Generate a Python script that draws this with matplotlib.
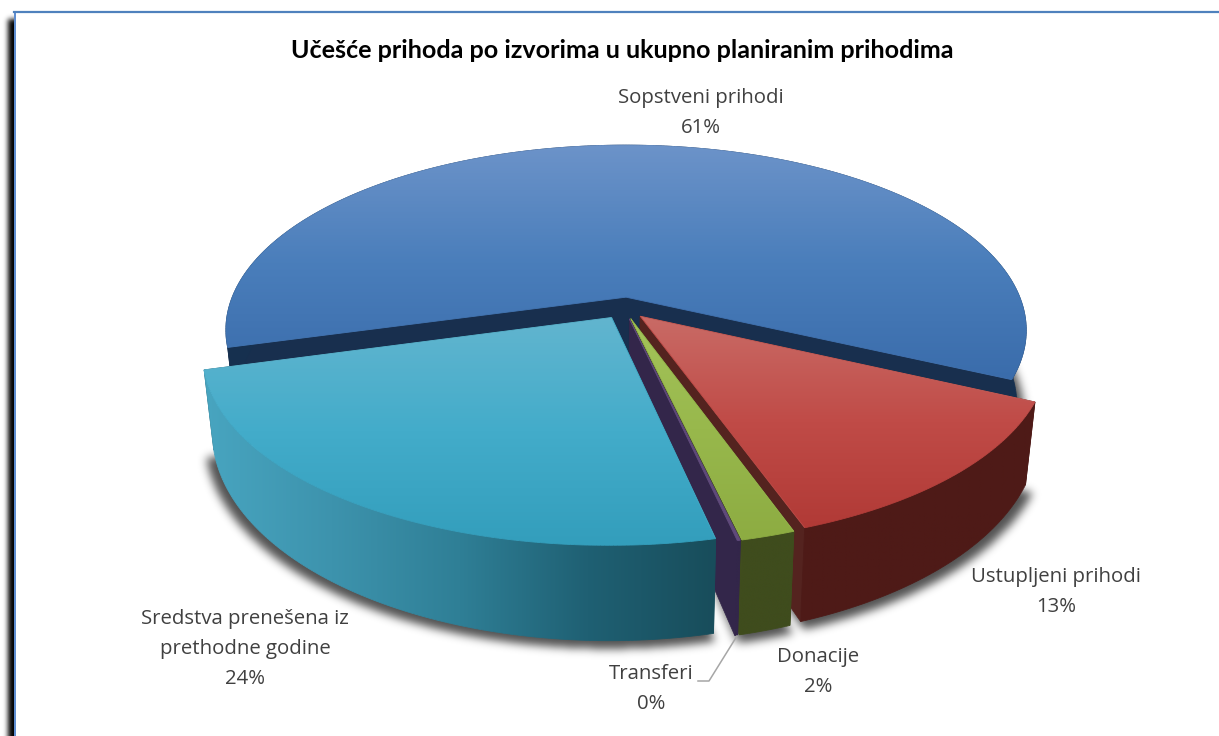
import numpy as np
import matplotlib
matplotlib.use('Agg')
import matplotlib.pyplot as plt
from matplotlib.collections import LineCollection
from matplotlib.colors import LinearSegmentedColormap
from matplotlib.patches import Polygon
from matplotlib.path import Path

title = 'Učešće prihoda po izvorima u ukupno planiranim prihodima'
names = ['Sopstveni prihodi', 'Ustupljeni prihodi', 'Donacije', 'Transferi',
         'Sredstva prenešena iz\nprethodne godine']
shares = [61.3, 12.6, 1.8, 0.1, 24.2]

top_colors = [['#6c93c9', '#4a7ebb', '#3a6cab'],
              ['#c96b66', '#c04b47', '#b13a36'],
              ['#a4c35a', '#98b84c', '#8dac42'],
              ['#604a7b', '#604a7b', '#604a7b'],
              ['#62b5cf', '#43acca', '#339ebc']]
side_colors = [['#16304f', '#16304f'],
               ['#4e1a17', '#4e1a17'],
               ['#3f4c1d', '#3f4c1d'],
               ['#33264a', '#33264a'],
               ['#48a5c0', '#3d93ad', '#2f7f96', '#1f6073', '#184d5b']]
wall_colors = ['#182f4e', '#54231f', '#3f4c1d', '#33264a', '#184d5b']

# pie geometry in pixels, y axis goes down like the reference
CX, CY = 624, 308
RX, RY = 398, 183
PERSP = 0.18
EXPLODE = 0.06
START = 195.5


def project(x, y):
    w = 1 / (1 + PERSP * y)
    return CX + RX * x * w, CY - RY * y * w


def drop(px, py):
    # bottom face sits lower and slightly narrower than the top face
    return CX + (px - CX) * 0.977, py + 80 + 0.0875 * (py - 370)


def slice_points(a0, a1):
    mid = np.radians((a0 + a1) / 2)
    ox, oy = EXPLODE * np.cos(mid), EXPLODE * np.sin(mid)
    n = max(int(abs(a1 - a0) * 2), 2)
    t = np.radians(np.linspace(a0, a1, n))
    ax, ay = project(ox + np.cos(t), oy + np.sin(t))
    apex = project(ox, oy)
    return np.array(apex), np.column_stack([ax, ay])


def fill_grad(ax, pts, colors, vertical=True, z=1):
    cmap = LinearSegmentedColormap.from_list('g', colors)
    x0, x1 = pts[:, 0].min(), pts[:, 0].max()
    y0, y1 = pts[:, 1].min(), pts[:, 1].max()
    ramp = np.linspace(0, 1, 256)
    ramp = ramp[:, None] if vertical else ramp[None, :]
    poly = Polygon(pts, closed=True, transform=ax.transData, fc='none', ec='none')
    ax.add_patch(poly)
    im = ax.imshow(ramp, cmap=cmap, extent=(x0, x1, y1, y0), aspect='auto',
                   origin='upper', zorder=z, interpolation='bilinear')
    im.set_clip_path(poly)
    # soft edge, the clipped image has a hard one
    closed = np.vstack([pts, pts[:1]])
    segs = np.stack([closed[:-1], closed[1:]], axis=1)
    mids = segs.mean(axis=1)
    if vertical:
        pos = (mids[:, 1] - y0) / max(y1 - y0, 1)
    else:
        pos = (mids[:, 0] - x0) / max(x1 - x0, 1)
    ax.add_collection(LineCollection(segs, colors=cmap(pos), linewidths=0.6, zorder=z))


def blur(img, sigma):
    r = int(3 * sigma)
    k = np.exp(-np.arange(-r, r + 1) ** 2 / (2 * sigma ** 2))
    k /= k.sum()
    pad = np.pad(img, r, mode='edge')
    pad = np.apply_along_axis(lambda v: np.convolve(v, k, mode='same'), 0, pad)
    pad = np.apply_along_axis(lambda v: np.convolve(v, k, mode='same'), 1, pad)
    return pad[r:-r, r:-r]


fig = plt.figure(figsize=(12.19, 7.36), dpi=100)
ax = fig.add_axes([0, 0, 1, 1])
ax.set_xlim(0, 1219)
ax.set_ylim(736, 0)
ax.axis('off')

# frame with the black shadow on the left, no line on the right side
edge = np.zeros((736, 40))
edge[19:, 8:] = 1
edge = blur(edge, 2.6)
rgba = np.zeros((736, 40, 4))
rgba[..., 3] = edge
ax.imshow(rgba, extent=(0, 40, 736, 0), aspect='auto', zorder=0.1)
ax.add_patch(Polygon([(14, 12), (1219, 12), (1219, 736), (14, 736)], closed=True,
                     fc='white', ec='none', zorder=0.2))
ax.plot([14.5, 14.5], [12, 736], color='#5b8bd0', lw=1.4, zorder=0.3)
ax.plot([14, 1219], [12, 12], color='#4f81bd', lw=1.6, zorder=0.3)

angles = START - np.cumsum([0] + shares) * 3.6
parts = []
for i in range(len(shares)):
    parts.append(slice_points(angles[i], angles[i + 1]))

# blurred ground shadow under the bottom faces
yy, xx = np.mgrid[0:736, 0:1219]
grid = np.column_stack([xx.ravel() + 0.5, yy.ravel() + 0.5])
mask = np.zeros(xx.size, dtype=bool)
for apex, arc in parts:
    bx, by = drop(*np.vstack([apex[None], arc]).T)
    bx = CX + (bx - CX) * 1.018
    mask |= Path(np.column_stack([bx, by + 8])).contains_points(grid)
shadow = np.zeros((736, 1219, 4))
shadow[..., 3] = blur(mask.reshape(736, 1219).astype(float), 4.5) * 0.68
ax.imshow(shadow, extent=(0, 1219, 736, 0), aspect='auto', zorder=0.5)
ax.set_xlim(0, 1219)
ax.set_ylim(736, 0)

for i, (apex, arc) in enumerate(parts):
    z = 1 + i
    bx, by = drop(arc[:, 0], arc[:, 1])
    base_arc = np.column_stack([bx, by])
    bax, bay = drop(apex[0], apex[1])
    base_apex = np.array([bax, bay])
    # radial cut faces
    for end in (0, -1):
        wall = np.array([apex, arc[end], base_arc[end], base_apex])
        ax.add_patch(Polygon(wall, closed=True, fc=wall_colors[i], ec=wall_colors[i],
                             lw=0.5, zorder=z))
    # outer rim
    rim = np.vstack([arc, base_arc[::-1]])
    fill_grad(ax, rim, side_colors[i], vertical=False, z=z + 0.1)
    # top face
    top = np.vstack([apex[None], arc])
    fill_grad(ax, top, top_colors[i], vertical=True, z=z + 0.2)

ax.plot([698, 709, 737], [681, 681, 636], color='#a6a6a6', lw=1.1, zorder=20)

ax.text(622, 51, title, ha='center', va='center', fontsize=18.1, fontweight='bold',
        family='Lato', color='black', zorder=30)

label_pos = [(701, 113), (1056, 592), (818, 672), (651, 689), (245, 649)]
for name, share, (lx, ly) in zip(names, shares, label_pos):
    ax.text(lx, ly, f'{name}\n{share:.0f}%', ha='center', va='center', fontsize=14.7,
            family='Open Sans', color='#404040', linespacing=1.65, zorder=30)

fig.savefig('out.png', dpi=100)
